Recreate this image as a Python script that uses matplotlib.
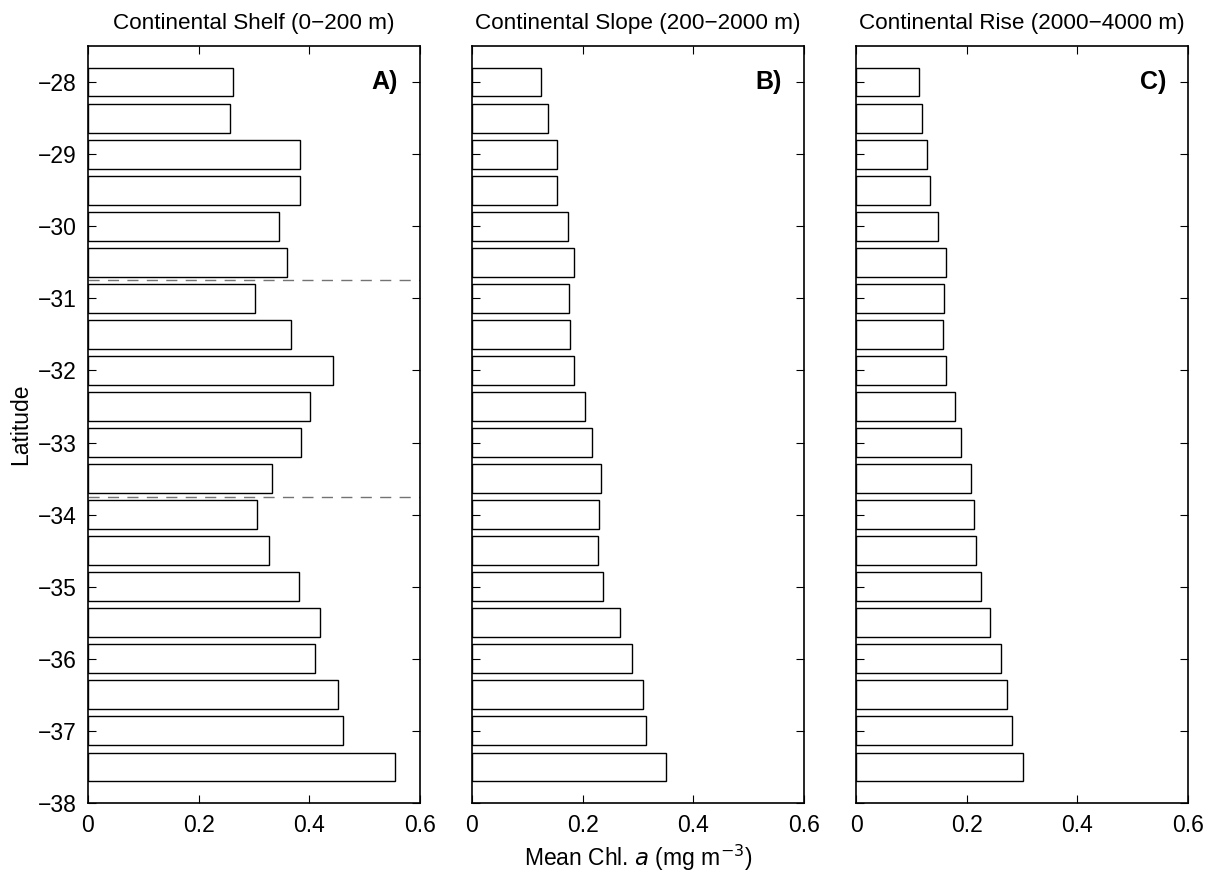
import matplotlib.pyplot as plt

plt.rcParams['font.family'] = ['Liberation Sans', 'DejaVu Sans']

lat = [-28.0, -28.5, -29.0, -29.5, -30.0, -30.5, -31.0, -31.5, -32.0, -32.5,
       -33.0, -33.5, -34.0, -34.5, -35.0, -35.5, -36.0, -36.5, -37.0, -37.5]

shelf = [0.262, 0.257, 0.383, 0.383, 0.345, 0.360, 0.301, 0.366, 0.443, 0.402,
         0.385, 0.332, 0.306, 0.327, 0.381, 0.419, 0.411, 0.451, 0.461, 0.554]
slope = [0.124, 0.138, 0.153, 0.153, 0.174, 0.184, 0.176, 0.177, 0.184, 0.204,
         0.217, 0.233, 0.229, 0.228, 0.237, 0.268, 0.289, 0.309, 0.314, 0.350]
rise = [0.114, 0.120, 0.129, 0.134, 0.148, 0.163, 0.159, 0.157, 0.163, 0.178,
        0.190, 0.208, 0.213, 0.216, 0.225, 0.242, 0.262, 0.272, 0.282, 0.302]

titles = ['Continental Shelf (0\u2212200 m)', 'Continental Slope (200\u22122000 m)',
          'Continental Rise (2000\u22124000 m)']
panel_tags = ['A)', 'B)', 'C)']
breaks = [-30.75, -33.75]

fig = plt.figure(figsize=(12.22, 8.73), dpi=100)
lefts = [0.072, 0.3862, 0.7005]
w = 0.2717
axes = [fig.add_axes([l, 0.0802, w, 0.8671]) for l in lefts]

for i, (ax, vals) in enumerate(zip(axes, [shelf, slope, rise])):
    ax.barh(lat, vals, height=0.4, color='white', edgecolor='black', linewidth=1.0)
    ax.set_xlim(0, 0.6)
    ax.set_ylim(-38, -27.5)
    ax.set_xticks([0, 0.2, 0.4, 0.6])
    ax.set_xticklabels(['0', '0.2', '0.4', '0.6'])
    ax.set_yticks(range(-38, -27))
    ax.tick_params(direction='in', top=True, right=True, length=6, width=0.8,
                   labelsize=16.5, pad=8)
    for s in ax.spines.values():
        s.set_linewidth(1.2)
    if i > 0:
        ax.set_yticklabels([])
    ax.set_title(titles[i], fontsize=16.2, pad=12)
    ax.text(0.934, 0.953, panel_tags[i], transform=ax.transAxes, ha='right',
            va='center', fontsize=18, fontweight='bold')

for b in breaks:
    axes[0].axhline(b, color='0.45', linewidth=1.0, linestyle=(0, (8, 6)))

axes[0].set_ylabel('Latitude', fontsize=16.5, labelpad=4)
axes[1].set_xlabel('Mean Chl. $\\mathit{a}$ (mg m$^{-3}$)', fontsize=16.5, labelpad=4)

fig.savefig('out.png', dpi=100)
